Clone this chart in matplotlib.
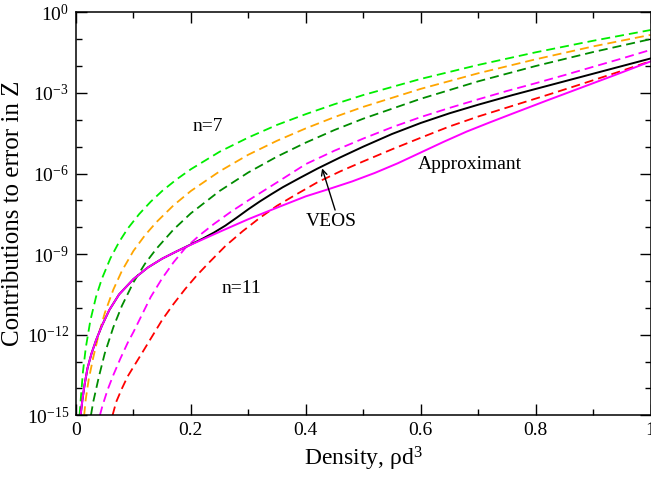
import matplotlib
matplotlib.use('Agg')
import matplotlib.pyplot as plt
import numpy as np
from matplotlib.ticker import FixedLocator, FixedFormatter, NullFormatter

plt.rcParams['font.family'] = ['Liberation Serif', 'DejaVu Serif']
plt.rcParams['mathtext.fontset'] = 'custom'
plt.rcParams['mathtext.rm'] = 'Liberation Serif'
plt.rcParams['mathtext.it'] = 'Liberation Serif:italic'
plt.rcParams['lines.scale_dashes'] = False

# ---- data (density, log10 of contribution) ----
n7_rho = [0.0062, 0.008, 0.012, 0.017, 0.025, 0.035, 0.045, 0.06, 0.075, 0.09, 0.11, 0.13, 0.15,
          0.175, 0.20, 0.25, 0.30, 0.35, 0.40, 0.45, 0.50, 0.60, 0.70, 0.80, 0.90, 1.0]
n7_log = [-15.0, -14.47, -13.40, -12.49, -11.47, -10.58, -9.92, -9.15, -8.55, -8.05, -7.51, -7.05, -6.65,
          -6.22, -5.84, -5.19, -4.66, -4.19, -3.79, -3.42, -3.08, -2.48, -1.96, -1.49, -1.06, -0.66]

n8_rho = [0.0142, 0.017, 0.022, 0.03, 0.04, 0.05, 0.065, 0.08, 0.10, 0.12, 0.14, 0.17, 0.20, 0.25,
          0.30, 0.35, 0.40, 0.45, 0.50, 0.60, 0.70, 0.80, 0.90, 1.0]
n8_log = [-15.0, -14.40, -13.68, -12.85, -11.95, -11.20, -10.32, -9.62, -8.88, -8.30, -7.81, -7.18, -6.65, -5.92,
          -5.30, -4.78, -4.32, -3.90, -3.52, -2.85, -2.27, -1.75, -1.27, -0.84]

n9_rho = [0.026, 0.03, 0.04, 0.05, 0.065, 0.08, 0.10, 0.12, 0.14, 0.17, 0.20, 0.25, 0.30, 0.35,
          0.40, 0.45, 0.50, 0.60, 0.70, 0.80, 0.90, 1.0]
n9_log = [-15.0, -14.50, -13.55, -12.70, -11.72, -10.92, -10.05, -9.36, -8.80, -8.08, -7.48, -6.65, -5.96, -5.37,
          -4.85, -4.38, -3.96, -3.22, -2.57, -2.00, -1.48, -1.00]

n10_rho = [0.0416, 0.046, 0.055, 0.065, 0.077, 0.09, 0.10, 0.115, 0.13, 0.15, 0.17, 0.19, 0.215, 0.24,
           0.27, 0.30, 0.35, 0.40, 0.45, 0.50, 0.55, 0.60, 0.65, 0.70, 0.75, 0.80, 0.85, 0.90, 0.95, 1.0]
n10_log = [-15.0, -14.65, -14.05, -13.50, -12.90, -12.30, -11.90, -11.25, -10.60, -9.90, -9.30, -8.78, -8.30, -7.88,
           -7.42, -7.00, -6.33, -5.65, -5.15, -4.70, -4.28, -3.90, -3.56, -3.24, -2.93, -2.64, -2.34, -2.03, -1.72, -1.40]

n11_rho = [0.0636, 0.07, 0.08, 0.09, 0.10, 0.115, 0.13, 0.15, 0.17, 0.19, 0.21, 0.23, 0.26, 0.29, 0.32,
           0.35, 0.38, 0.42, 0.46, 0.50, 0.55, 0.60, 0.65, 0.70, 0.76, 0.82, 0.88, 0.94, 1.0]
n11_log = [-15.0, -14.50, -14.00, -13.55, -13.20, -12.68, -12.15, -11.45, -10.85, -10.30, -9.80, -9.35, -8.70, -8.15, -7.65,
           -7.20, -6.82, -6.33, -5.92, -5.55, -5.10, -4.67, -4.25, -3.88, -3.48, -3.08, -2.67, -2.25, -1.82]

veos_rho = [0.008, 0.011, 0.015, 0.02, 0.027, 0.035, 0.045, 0.058, 0.075, 0.10, 0.125, 0.15, 0.175, 0.20,
            0.22, 0.24, 0.26, 0.28, 0.30, 0.32, 0.34, 0.36, 0.39, 0.42, 0.46, 0.50, 0.55, 0.60, 0.65,
            0.70, 0.76, 0.82, 0.88, 0.94, 1.0]
veos_log = [-15.0, -14.45, -13.85, -13.25, -12.70, -12.20, -11.67, -11.08, -10.50, -9.93, -9.50, -9.17, -8.90, -8.64,
            -8.43, -8.20, -7.94, -7.64, -7.33, -7.04, -6.77, -6.51, -6.16, -5.82, -5.40, -5.00, -4.53, -4.12, -3.76,
            -3.44, -3.08, -2.74, -2.40, -2.06, -1.72]

appr_rho = [0.008, 0.011, 0.015, 0.02, 0.027, 0.035, 0.045, 0.058, 0.075, 0.10, 0.125, 0.15, 0.175, 0.20,
            0.25, 0.30, 0.35, 0.40, 0.44, 0.48, 0.52, 0.56, 0.60, 0.64, 0.68, 0.72, 0.76, 0.82, 0.88, 0.94, 1.0]
appr_log = [-15.0, -14.45, -13.85, -13.25, -12.70, -12.20, -11.67, -11.08, -10.50, -9.93, -9.50, -9.17, -8.90, -8.65,
            -8.17, -7.70, -7.27, -6.85, -6.58, -6.30, -5.98, -5.62, -5.22, -4.82, -4.44, -4.10, -3.77, -3.28, -2.80,
            -2.32, -1.83]

x_ticks = [0, 0.2, 0.4, 0.6, 0.8, 1.0]
x_ticklabels = ['0', '0.2', '0.4', '0.6', '0.8', '1']
x_minor = [0.1, 0.3, 0.5, 0.7, 0.9]
y_tick_exps = [-15, -12, -9, -6, -3, 0]
y_minor_exps = [-14, -13, -11, -10, -8, -7, -5, -4, -2, -1]

dashed = [
    (n7_rho, n7_log, '#00ee00'),
    (n8_rho, n8_log, '#ffa500'),
    (n9_rho, n9_log, '#008c00'),
    (n10_rho, n10_log, '#ff00ff'),
    (n11_rho, n11_log, '#ff0000'),
]

fig = plt.figure(figsize=(6.51, 4.78), dpi=100)
ax = fig.add_axes([76 / 651, 1 - 415.3 / 478, (650.5 - 76) / 651, (415.3 - 12.3) / 478])

for rho, lg, col in dashed:
    ax.plot(rho, 10 ** np.array(lg), color=col, lw=1.3, dashes=(6.5, 3.6))
ax.plot(veos_rho, 10 ** np.array(veos_log), color='black', lw=1.4)
ax.plot(appr_rho, 10 ** np.array(appr_log), color='#ff00ff', lw=1.4)

ax.set_yscale('log')
ax.set_xlim(0, 1)
ax.set_ylim(1e-15, 1)

ax.xaxis.set_major_locator(FixedLocator(x_ticks))
ax.xaxis.set_major_formatter(FixedFormatter(x_ticklabels))
ax.xaxis.set_minor_locator(FixedLocator(x_minor))
ax.yaxis.set_major_locator(FixedLocator([10.0 ** e for e in y_tick_exps]))
ax.yaxis.set_major_formatter(FixedFormatter([r'$10^{%d}$' % e for e in y_tick_exps]))
ax.yaxis.set_minor_locator(FixedLocator([10.0 ** e for e in y_minor_exps]))
ax.yaxis.set_minor_formatter(NullFormatter())

ax.tick_params(which='both', direction='in', top=True, right=True, labelsize=14, width=1.0)
ax.tick_params(which='major', length=8, pad=5)
ax.tick_params(which='minor', length=4)
for s in ax.spines.values():
    s.set_linewidth(1.1)

ax.set_xlabel(r'Density, ρd$^3$', fontsize=17, labelpad=4)
ax.set_ylabel('Contributions to error in Z', fontsize=18, labelpad=2)

ax.text(0.2295, 10 ** -4.26, 'n=7', ha='center', va='center', fontsize=14)
ax.text(0.2874, 10 ** -10.27, 'n=11', ha='center', va='center', fontsize=14)
ax.text(0.4435, 10 ** -7.79, 'VEOS', ha='center', va='center', fontsize=14)
ax.text(0.6864, 10 ** -5.68, 'Approximant', ha='center', va='center', fontsize=14)
ax.annotate('', xy=(0.4284, 10 ** -5.81), xytext=(0.451, 10 ** -7.36),
            arrowprops=dict(arrowstyle='->', lw=1.0, color='black', shrinkA=0, shrinkB=0,
                            mutation_scale=10))

fig.savefig('out.png', dpi=100)
